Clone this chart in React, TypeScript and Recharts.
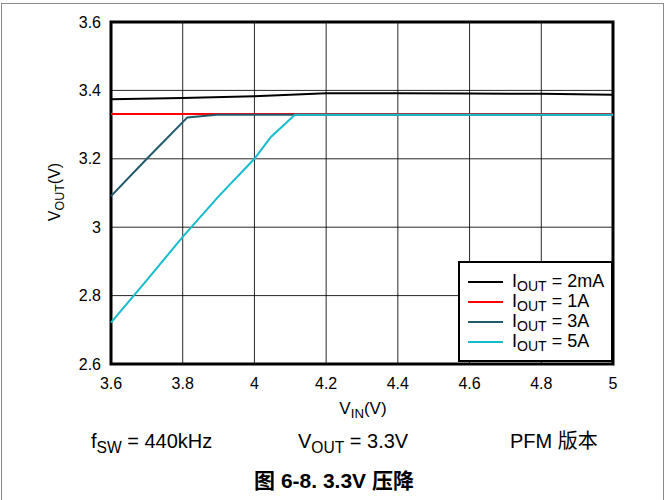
import React from 'react';
import { LineChart, Line, XAxis, YAxis, CartesianGrid, ReferenceArea, Legend } from 'recharts';

// V_IN ticks and V_OUT ticks
const xTicks = [3.6, 3.8, 4, 4.2, 4.4, 4.6, 4.8, 5];
const yTicks = [2.6, 2.8, 3, 3.2, 3.4, 3.6];

// readings (VIN, VOUT)
const vin2mA = [3.6, 3.8, 4.0, 4.2, 4.4, 4.6, 4.8, 5.0];
const vout2mA = [3.374, 3.378, 3.383, 3.392, 3.392, 3.391, 3.39, 3.387];

const vin1A = [3.6, 5.0];
const vout1A = [3.331, 3.331];

const vin3A = [3.6, 3.7, 3.813, 3.895, 5.0];
const vout3A = [3.091, 3.2, 3.321, 3.329, 3.329];

const vin5A = [3.6, 3.7, 3.8, 3.9, 4.0, 4.046, 4.113, 5.0];
const vout5A = [2.721, 2.845, 2.972, 3.09, 3.2, 3.264, 3.329, 3.329];

const toPts = (xs: number[], ys: number[]) => xs.map((x, i) => ({ vin: x, vout: ys[i] }));

const series = [
  { name: '2mA', color: '#000000', data: toPts(vin2mA, vout2mA) },
  { name: '1A', color: '#ff0000', data: toPts(vin1A, vout1A) },
  { name: '3A', color: '#1f5a6d', data: toPts(vin3A, vout3A) },
  { name: '5A', color: '#14bccd', data: toPts(vin5A, vout5A) },
];

const font = '"Liberation Sans", Arial, sans-serif';
const cjk = '"Liberation Sans", "Noto Sans CJK SC", sans-serif';
const subStyle: React.CSSProperties = { fontSize: '0.78em', position: 'relative', top: '0.3em' };

const LegendBox = () => (
  <div
    style={{
      width: 155,
      height: 101,
      border: '2px solid #000',
      background: '#fff',
      fontFamily: font,
      fontSize: 18,
      paddingTop: 9,
      boxSizing: 'border-box',
    }}
  >
    {series.map((s) => (
      <div key={s.name} style={{ display: 'flex', alignItems: 'center', height: 20, lineHeight: 1 }}>
        <div style={{ width: 35, height: 2, background: s.color, marginLeft: 8, marginRight: 9 }} />
        <span style={{ position: 'relative', top: -1, whiteSpace: 'nowrap' }}>
          I<span style={subStyle}>OUT</span> = {s.name}
        </span>
      </div>
    ))}
  </div>
);

export default function App() {
  return (
    <div
      style={{
        position: 'relative',
        width: 666,
        height: 500,
        overflow: 'hidden',
        background: '#fff',
        fontFamily: font,
      }}
    >
      <style>{'body{margin:0}'}</style>
      <div
        style={{
          position: 'absolute',
          left: 1,
          top: 3,
          width: 661,
          height: 540,
          border: '1px solid #8a8a8a',
        }}
      />
      <div style={{ position: 'absolute', left: 0, top: 0 }}>
        <LineChart width={666} height={500} margin={{ top: 22, right: 53, bottom: 0, left: 0 }}>
          <CartesianGrid stroke="#000" strokeWidth={1} strokeOpacity={0.85} />
          <XAxis
            type="number"
            dataKey="vin"
            domain={[3.6, 5]}
            ticks={xTicks}
            height={136}
            axisLine={false}
            tickLine={false}
            tickSize={0}
            tickMargin={14}
            allowDuplicatedCategory={false}
            tick={{ fill: '#000', fontSize: 16, fontFamily: font }}
          />
          <YAxis
            type="number"
            domain={[2.6, 3.6]}
            ticks={yTicks}
            width={111}
            axisLine={false}
            tickLine={false}
            tickSize={0}
            tickMargin={10}
            tick={{ fill: '#000', fontSize: 16, fontFamily: font }}
          />
          {series.map((s) => (
            <Line
              key={s.name}
              data={s.data}
              dataKey="vout"
              name={s.name}
              type="linear"
              stroke={s.color}
              strokeWidth={2}
              dot={false}
              activeDot={false}
              isAnimationActive={false}
            />
          ))}
          <ReferenceArea x1={3.6} x2={5} y1={2.6} y2={3.6} fill="none" stroke="#000" strokeWidth={3} ifOverflow="visible" />
          <Legend
            layout="vertical"
            align="center"
            verticalAlign="middle"
            content={() => <LegendBox />}
            wrapperStyle={{ left: 458, top: 261, width: 155, height: 101 }}
          />
        </LineChart>
      </div>

      <div style={{ position: 'absolute', left: 363, top: 408, transform: 'translate(-50%,-50%)', fontSize: 17, lineHeight: 1, whiteSpace: 'nowrap' }}>
        V<span style={subStyle}>IN</span>(V)
      </div>
      <div
        style={{
          position: 'absolute',
          left: 55,
          top: 192,
          transform: 'translate(-50%,-50%) rotate(-90deg)',
          fontSize: 16,
          lineHeight: 1,
          whiteSpace: 'nowrap',
        }}
      >
        V<span style={subStyle}>OUT</span>(V)
      </div>

      <div style={{ position: 'absolute', left: 91, top: 431, fontSize: 20, lineHeight: 1, whiteSpace: 'nowrap' }}>
        f<span style={subStyle}>SW</span> = 440kHz
      </div>
      <div style={{ position: 'absolute', left: 298, top: 431, fontSize: 20, lineHeight: 1, whiteSpace: 'nowrap' }}>
        V<span style={subStyle}>OUT</span> = 3.3V
      </div>
      <div style={{ position: 'absolute', left: 510, top: 431, fontSize: 20, lineHeight: 1, whiteSpace: 'nowrap', fontFamily: cjk }}>
        PFM 版本
      </div>
      <div
        style={{
          position: 'absolute',
          left: 334,
          top: 470,
          transform: 'translateX(-50%)',
          fontSize: 21,
          fontWeight: 'bold',
          lineHeight: 1,
          whiteSpace: 'nowrap',
          fontFamily: cjk,
        }}
      >
        图 6-8. 3.3V 压降
      </div>
    </div>
  );
}
